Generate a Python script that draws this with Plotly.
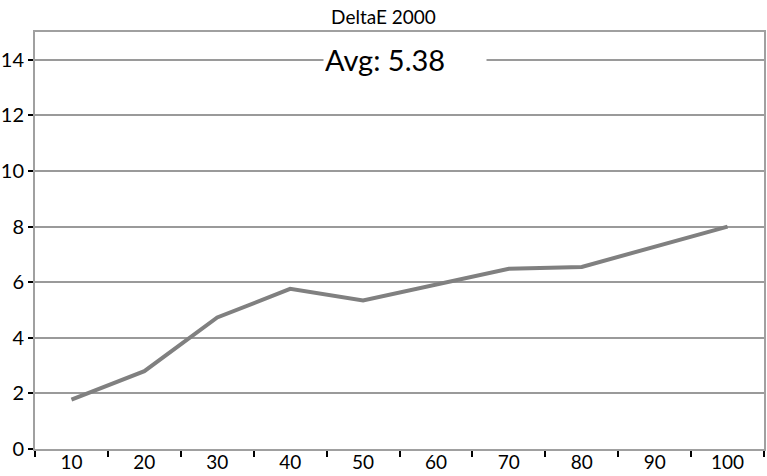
import plotly.graph_objects as go

categories = ["10", "20", "30", "40", "50", "60", "70", "80", "90", "100"]
delta_e = [1.78, 2.80, 4.73, 5.76, 5.34, 5.90, 6.48, 6.55, 7.27, 8.00]
avg_label = "Avg: 5.38"
title_text = "DeltaE 2000"
y_ticks = [0, 2, 4, 6, 8, 10, 12, 14]

FONT = "Lato"
GRID = "#9a9a9a"

fig = go.Figure()
fig.add_trace(go.Scatter(
    x=categories, y=delta_e, mode="lines",
    line=dict(color="#808080", width=4),
    showlegend=False, hoverinfo="skip",
))

fig.update_layout(
    width=767, height=476,
    margin=dict(l=35, r=3, t=32, b=27, autoexpand=False),
    paper_bgcolor="white", plot_bgcolor="white",
    font=dict(family=FONT, color="black", size=19),
    title=dict(text=title_text, x=0.5, xref="container", xanchor="center",
               y=1 - 17 / 476, yref="container", yanchor="middle",
               font=dict(family=FONT, size=19, color="black")),
    xaxis=dict(type="category", range=[-0.5, 9.5], tickson="boundaries",
               ticks="outside", ticklen=6, tickwidth=2, tickcolor="black",
               showgrid=False, showline=True, linecolor="#a0a0a0", linewidth=2,
               mirror=True, tickfont=dict(size=19), zeroline=False,
               automargin=False, ticklabelstandoff=-5),
    yaxis=dict(range=[0, 15], tickvals=y_ticks, ticks="outside", ticklen=5,
               tickwidth=2, tickcolor="black", showgrid=True, gridcolor=GRID,
               gridwidth=1.5, showline=True, linecolor="#a0a0a0", linewidth=2,
               mirror=True, tickfont=dict(size=20), zeroline=False,
               automargin=False),
)

fig.add_annotation(
    text=avg_label, xref="paper", yref="y", x=(323 - 35) / 729, y=14,
    xanchor="left", yanchor="middle", showarrow=False, align="left",
    bgcolor="white", width=160, font=dict(family=FONT, size=29, color="black"),
)

fig.write_html("out.html", config={"displayModeBar": False},
               post_script="document.body.style.margin='0';")
